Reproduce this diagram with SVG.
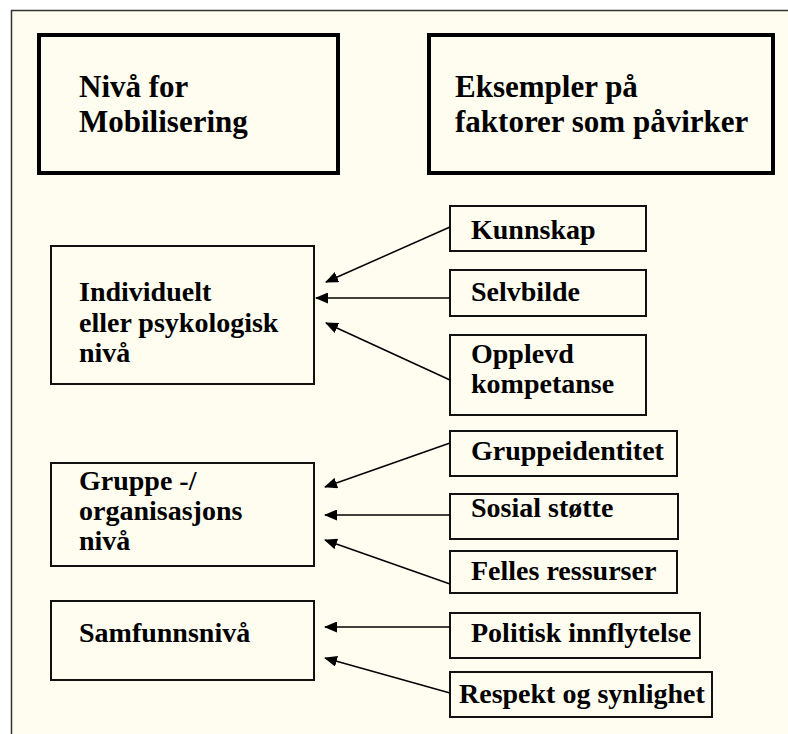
<svg xmlns="http://www.w3.org/2000/svg" width="788" height="734" viewBox="0 0 788 734">
<defs>
<style>
.frame{fill:#fffdf0;stroke:#333;stroke-width:1.5}
.hbox{fill:#fffdf0;stroke:#000;stroke-width:4}
.box{fill:#fffdf0;stroke:#111;stroke-width:2}
.ht{font-family:"Liberation Serif","Times New Roman",serif;font-weight:bold;font-size:31px;fill:#000}
.t{font-family:"Liberation Serif","Times New Roman",serif;font-weight:bold;font-size:28px;fill:#000}
.c{fill:none;stroke:#000;stroke-width:1.5}
</style>
<marker id="ah" markerUnits="userSpaceOnUse" markerWidth="13" markerHeight="11" refX="12" refY="5.5" orient="auto">
<path d="M0,0 L13,5.5 L0,11 Z" fill="#000"/>
</marker>
</defs>
<rect x="0" y="0" width="788" height="734" fill="#fff"/>
<rect class="frame" x="11.5" y="10.5" width="800" height="740"/>
<g id="header-niva">
<rect class="hbox" x="39" y="35" width="299" height="138"/>
<text class="ht" x="79" y="97">Nivå for</text>
<text class="ht" x="79" y="132">Mobilisering</text>
</g>
<g id="header-eksempler">
<rect class="hbox" x="429" y="35" width="344" height="138"/>
<text class="ht" x="455" y="97">Eksempler på</text>
<text class="ht" x="455" y="132">faktorer som påvirker</text>
</g>
<g id="individuelt">
<rect class="box" x="51" y="246" width="263" height="138"/>
<text class="t" x="79" y="301">Individuelt</text>
<text class="t" x="79" y="332">eller psykologisk</text>
<text class="t" x="79" y="362">nivå</text>
</g>
<g id="gruppe">
<rect class="box" x="51" y="463" width="263" height="103"/>
<text class="t" x="79" y="490">Gruppe -/</text>
<text class="t" x="79" y="520">organisasjons</text>
<text class="t" x="79" y="550">nivå</text>
</g>
<g id="samfunn">
<rect class="box" x="51" y="601" width="263" height="79"/>
<text class="t" x="79" y="642">Samfunnsnivå</text>
</g>
<g id="kunnskap">
<rect class="box" x="450" y="206" width="196" height="45"/>
<text class="t" x="471" y="239">Kunnskap</text>
</g>
<g id="selvbilde">
<rect class="box" x="450" y="270" width="196" height="46"/>
<text class="t" x="471" y="301">Selvbilde</text>
</g>
<g id="opplevd">
<rect class="box" x="450" y="335" width="196" height="80"/>
<text class="t" x="471" y="363">Opplevd</text>
<text class="t" x="471" y="393">kompetanse</text>
</g>
<g id="gruppeidentitet">
<rect class="box" x="450" y="431" width="227" height="45"/>
<text class="t" x="471" y="460">Gruppeidentitet</text>
</g>
<g id="sosial">
<rect class="box" x="450" y="494" width="228" height="45"/>
<text class="t" x="471" y="517">Sosial støtte</text>
</g>
<g id="felles">
<rect class="box" x="450" y="551" width="227" height="42"/>
<text class="t" x="471" y="580">Felles ressurser</text>
</g>
<g id="politisk">
<rect class="box" x="450" y="613" width="250" height="45"/>
<text class="t" x="471" y="642">Politisk innflytelse</text>
</g>
<g id="respekt">
<rect class="box" x="450" y="672" width="262" height="45"/>
<text class="t" x="459" y="703">Respekt og synlighet</text>
</g>
<g id="connectors">
<line class="c" x1="450" y1="227" x2="326" y2="282" marker-end="url(#ah)"/>
<line class="c" x1="450" y1="298" x2="316" y2="298" marker-end="url(#ah)"/>
<line class="c" x1="450" y1="380" x2="326" y2="323" marker-end="url(#ah)"/>
<line class="c" x1="450" y1="443" x2="325" y2="487" marker-end="url(#ah)"/>
<line class="c" x1="450" y1="515" x2="325" y2="515" marker-end="url(#ah)"/>
<line class="c" x1="450" y1="584" x2="325" y2="540" marker-end="url(#ah)"/>
<line class="c" x1="450" y1="627" x2="325" y2="627" marker-end="url(#ah)"/>
<line class="c" x1="450" y1="693" x2="325" y2="658" marker-end="url(#ah)"/>
</g>
</svg>
